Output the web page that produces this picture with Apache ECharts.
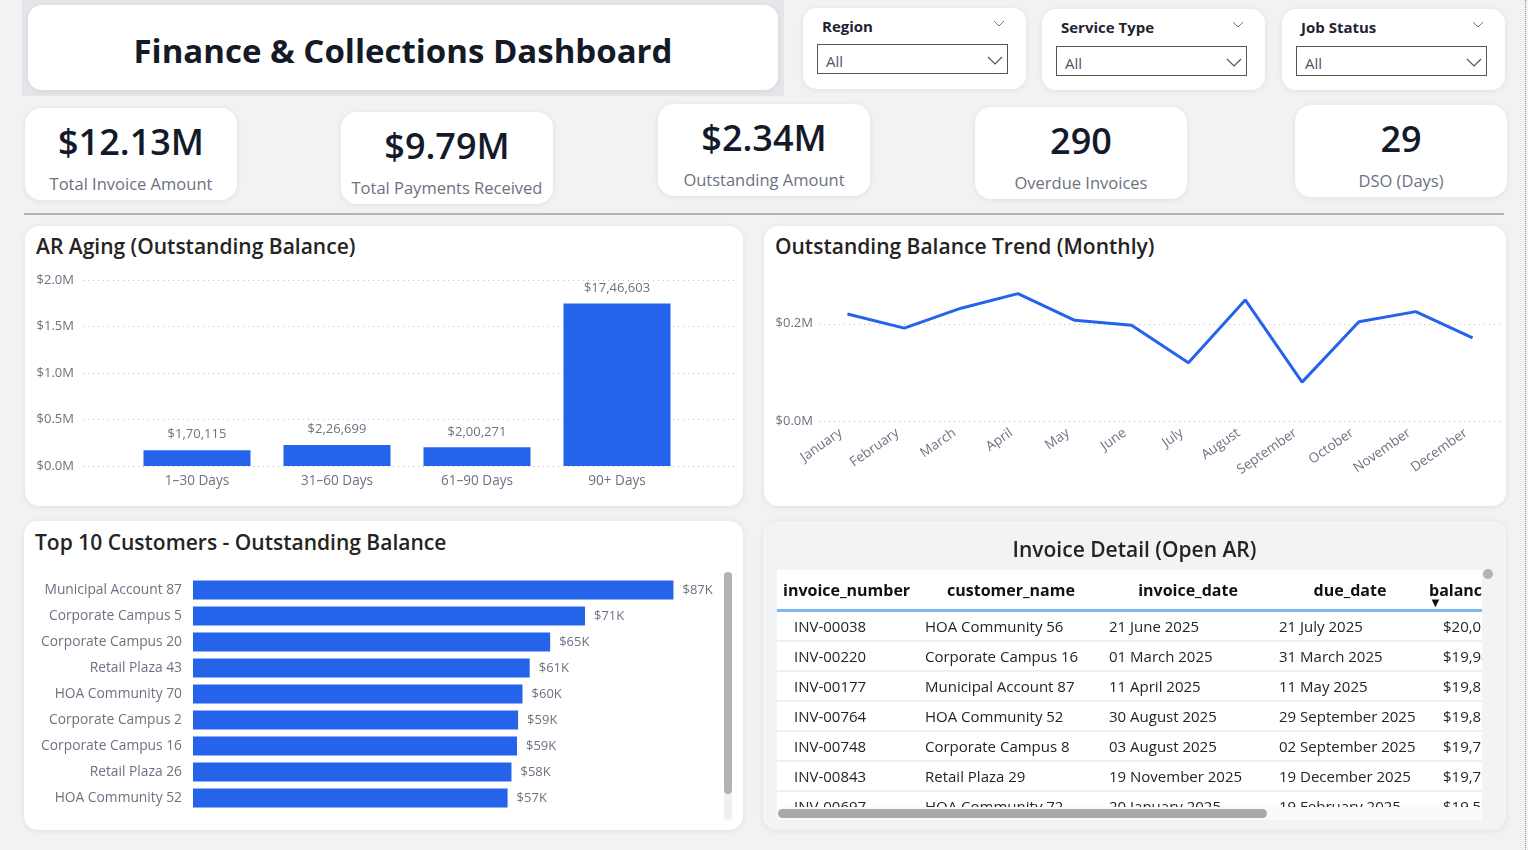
<!DOCTYPE html>
<html>
<head>
<meta charset="utf-8">
<title>Finance &amp; Collections Dashboard</title>
<style>
	html, body { margin:0; padding:0; }
	body { width:1528px; height:850px; background:#f1f2f4; position:relative; overflow:hidden;
		font-family:"Segoe UI","Open Sans","Noto Sans",sans-serif; color:#252423; }
	.abs { position:absolute; }
	.card { position:absolute; background:#fff; border-radius:14px; box-shadow:0 1px 6px rgba(0,0,0,0.08); }
	.title_wp { left:22px; top:0; width:762px; height:96px; background:#e4e6ea; }
	.title_box { left:28px; top:5px; width:750px; height:85px; }
	.title_box h1 { margin:0; padding-top:3px; line-height:85px; text-align:center; font-size:33px; font-weight:700; color:#141a26; }
	.slicer .lbl { position:absolute; left:19px; top:8px; font-size:15px; font-weight:700; color:#1f2430; }
	.slicer .box { position:absolute; left:14px; width:191px; height:30px; border:1px solid #555; box-sizing:border-box; }
	.slicer .box span { position:absolute; left:8px; top:6px; font-size:15px; color:#4b5563; }
	.slicer svg { position:absolute; }
	.kpi .val { position:absolute; left:0; right:0; text-align:center; font-size:36px; font-weight:600; color:#131a2a; line-height:1; }
	.kpi .txt { position:absolute; left:0; right:0; text-align:center; font-size:16.5px; color:#6b7280; line-height:1; }
	.sep { left:24px; top:213px; width:1480px; height:2px; background:#b4b4b4; }
	.ctit { position:absolute; left:11px; top:6px; font-size:21px; font-weight:600; color:#252423; white-space:nowrap; }
	.chart { position:absolute; }
	.tcard { background:#f2f3f5; }
	.tcard .ctit { left:0; right:0; text-align:center; top:14px; }
	.twrap { position:absolute; left:14px; top:49px; width:705px; height:237px; overflow:hidden; background:#fff; }
	table.k { border-collapse:collapse; table-layout:fixed; width:800px; }
	table.k th { height:39px; font-size:16px; font-weight:700; color:#111; text-align:center; padding:0; white-space:nowrap;
		border-bottom:3px solid #7db8ef; vertical-align:middle; }
	table.k td { height:28px; font-size:15px; color:#252423; padding:0 0 0 6px; white-space:nowrap; overflow:hidden;
		border-bottom:2px solid #eef0f3; }
	table.k td.c1 { padding-left:17px; }
	table.k td.c5 { padding-left:16px; }
	.hscroll { left:15px; top:288px; width:489px; height:9px; border-radius:5px; background:#a8a8a8; }
	.vscroll { border-radius:4px; background:#b3b3b3; }
</style>
</head>
<body>
	<div class="abs title_wp"></div>
	<div class="card title_box"><h1>Finance &amp; Collections Dashboard</h1></div>

	<div id="slicers"></div>
	<div id="kpis"></div>
	<div class="abs sep"></div>

	<div class="card" style="left:25px;top:226px;width:718px;height:280px;">
		<div class="ctit">AR Aging (Outstanding Balance)</div>
		<div id="aging" class="chart" style="left:0;top:0;width:718px;height:280px;"></div>
	</div>
	<!--end aging-->

	<div class="card" style="left:764px;top:226px;width:742px;height:280px;">
		<div class="ctit">Outstanding Balance Trend (Monthly)</div>
		<div id="trend" class="chart" style="left:0;top:0;width:742px;height:280px;"></div>
	</div>
	<!--end trend-->

	<div class="card" style="left:24px;top:521px;width:719px;height:309px;">
		<div class="ctit" style="top:7px;">Top 10 Customers - Outstanding Balance</div>
		<div id="topcust" class="chart" style="left:0;top:0;width:719px;height:309px;"></div>
		<div class="abs vscroll" style="left:700px;top:51px;width:8px;height:248px;background:#f0f0f0;"></div>
		<div class="abs vscroll" style="left:700px;top:51px;width:8px;height:222px;"></div>
	</div>
	<!--end topcust-->

	<div class="card tcard" style="left:763px;top:521px;width:743px;height:309px;">
		<div class="ctit">Invoice Detail (Open AR)</div>
		<div class="twrap"><table class="k" id="inv_tb"></table></div>
		<div class="abs" style="left:14px;top:286px;width:705px;height:13px;background:#fafafa;"></div>
		<div class="abs hscroll"></div>
		<div class="abs vscroll" style="left:720px;top:48px;width:10px;height:10px;border-radius:5px;"></div>
	</div>
	<!--end invoice table-->

	<div class="abs" style="left:1525px;top:0;width:0;height:850px;border-left:1px dotted #999;"></div>

<script src="https://cdn.jsdelivr.net/npm/echarts@6.0.0/dist/echarts.min.js"></script>
<script>
// ---- data ----
var slicerNames = ['Region', 'Service Type', 'Job Status'];
var kpiValues = ['$12.13M', '$9.79M', '$2.34M', '290', '29'];
var kpiLabels = ['Total Invoice Amount', 'Total Payments Received', 'Outstanding Amount', 'Overdue Invoices', 'DSO (Days)'];

var agingCats = ['1–30 Days', '31–60 Days', '61–90 Days', '90+ Days'];
var agingVals = [170115, 226699, 200271, 1746603];

var months = ['January', 'February', 'March', 'April', 'May', 'June', 'July', 'August', 'September', 'October', 'November', 'December'];
var trendVals = [220000, 191000, 232000, 262000, 207000, 197000, 120000, 249000, 80000, 204000, 225000, 171000];

var custNames = ['Municipal Account 87', 'Corporate Campus 5', 'Corporate Campus 20', 'Retail Plaza 43', 'HOA Community 70',
	'Corporate Campus 2', 'Corporate Campus 16', 'Retail Plaza 26', 'HOA Community 52'];
var custVals = [86900, 70900, 64600, 60900, 59600, 58800, 58600, 57600, 56900];

var tbCols = ['invoice_number', 'customer_name', 'invoice_date', 'due_date', 'balance'];
var invNumbers = ['INV-00038', 'INV-00220', 'INV-00177', 'INV-00764', 'INV-00748', 'INV-00843', 'INV-00697'];
var invCustomers = ['HOA Community 56', 'Corporate Campus 16', 'Municipal Account 87', 'HOA Community 52', 'Corporate Campus 8', 'Retail Plaza 29', 'HOA Community 72'];
var invDates = ['21 June 2025', '01 March 2025', '11 April 2025', '30 August 2025', '03 August 2025', '19 November 2025', '20 January 2025'];
var dueDates = ['21 July 2025', '31 March 2025', '11 May 2025', '29 September 2025', '02 September 2025', '19 December 2025', '19 February 2025'];
var balances = ['$20,095', '$19,945', '$19,832', '$19,821', '$19,768', '$19,762', '$19,553'];

var BLUE = '#2563eb';
var AXIS_GREY = '#6b7280';

// indian style grouping, like the source report
function inr(v) {
	var s = String(Math.round(v));
	var last3 = s.slice(-3), rest = s.slice(0, -3);
	if (rest) last3 = ',' + last3;
	rest = rest.replace(/\B(?=(\d{2})+(?!\d))/g, ',');
	return '$' + rest + last3;
}
function mil(v) { return '$' + (v / 1e6).toFixed(1) + 'M'; }

// slicers
(function(){
	var lefts = [803, 1042, 1282], tops = [8, 9, 9], boxTop = [36, 37, 37];
	var html = '';
	for (var i = 0; i < slicerNames.length; i++) {
		html += '<div class="card slicer" style="left:' + lefts[i] + 'px;top:' + tops[i] + 'px;width:223px;height:81px;">' +
			'<div class="lbl">' + slicerNames[i] + '</div>' +
			'<svg style="left:190px;top:12px" width="12" height="8"><polyline points="1,1 6,6 11,1" fill="none" stroke="#777" stroke-width="1"/></svg>' +
			'<div class="box" style="top:' + boxTop[i] + 'px"><span>All</span>' +
			'<svg style="left:169px;top:11px" width="16" height="10"><polyline points="1,1 8,8 15,1" fill="none" stroke="#555" stroke-width="1.2"/></svg></div>' +
			'</div>';
	}
	document.getElementById('slicers').innerHTML = html;
})();

// kpi cards
(function(){
	var pos = [[25, 108], [341, 112], [658, 104], [975, 107], [1295, 105]];
	var html = '';
	for (var i = 0; i < kpiValues.length; i++) {
		html += '<div class="card kpi" style="left:' + pos[i][0] + 'px;top:' + pos[i][1] + 'px;width:212px;height:92px;border-radius:16px;">' +
			'<div class="val" style="top:16px">' + kpiValues[i] + '</div>' +
			'<div class="txt" style="top:68px">' + kpiLabels[i] + '</div></div>';
	}
	document.getElementById('kpis').innerHTML = html;
})();

// invoice table
(function(){
	var widths = [142, 184, 170, 154, 150];
	var h = '<colgroup>';
	for (var i = 0; i < widths.length; i++) h += '<col style="width:' + widths[i] + 'px">';
	h += '</colgroup><tr>';
	for (var i = 0; i < tbCols.length; i++) {
		var name = tbCols[i];
		if (i === 0) h += '<th style="text-align:left;padding-left:6px">' + name + '</th>';
		else if (i === 4) h += '<th style="text-align:left;padding-left:2px;position:relative">' + name +
			'<span style="position:absolute;left:2px;top:23px;font-size:13px">&#9660;</span></th>';
		else h += '<th>' + name + '</th>';
	}
	h += '</tr>';
	for (var r = 0; r < invNumbers.length; r++) {
		h += '<tr><td class="c1">' + invNumbers[r] + '</td><td>' + invCustomers[r] + '</td><td>' + invDates[r] +
			'</td><td>' + dueDates[r] + '</td><td class="c5">' + balances[r] + '</td></tr>';
	}
	document.getElementById('inv_tb').innerHTML = h;
})();

// ar aging column
(function(){
	var app = echarts.init(document.getElementById('aging'));
	var option = {
		animation: false,
		textStyle: { fontFamily: '"Segoe UI","Open Sans",sans-serif' },
		grid: [
			{ left: 58, top: 54, width: 652, height: 186 },   // gridlines + y labels
			{ left: 102, top: 54, width: 560, height: 186 }   // bars
		],
		xAxis: [
			{ gridIndex: 0, type: 'value', min: 0, max: 1, show: false },
			{ gridIndex: 1, type: 'category', data: agingCats,
				axisLine: { show: false }, axisTick: { show: false },
				axisLabel: { color: AXIS_GREY, fontSize: 13.6, margin: 8 } }
		],
		yAxis: [
			{ gridIndex: 0, type: 'value', min: 0, max: 2000000, interval: 500000,
				axisLabel: { formatter: mil, color: AXIS_GREY, fontSize: 13, margin: 9 },
				axisLine: { show: false }, axisTick: { show: false },
				splitLine: { lineStyle: { type: [1, 4], color: '#bdbdbd' } } },
			{ gridIndex: 1, type: 'value', min: 0, max: 2000000, show: false }
		],
		series: [{
			type: 'bar', xAxisIndex: 1, yAxisIndex: 1,
			data: agingVals, barWidth: 107,
			itemStyle: { color: BLUE },
			label: { show: true, position: 'top', distance: 9, color: AXIS_GREY, fontSize: 13,
				formatter: function(p){ return inr(p.value); } }
		}]
	};
	app.setOption(option);
})();

// monthly trend line
(function(){
	var app = echarts.init(document.getElementById('trend'));
	var option = {
		animation: false,
		textStyle: { fontFamily: '"Segoe UI","Open Sans",sans-serif' },
		grid: { left: 55, top: 54, width: 682, height: 141 },
		xAxis: {
			type: 'category', data: months, boundaryGap: true,
			axisLine: { show: false }, axisTick: { show: false },
			axisLabel: { color: AXIS_GREY, fontSize: 13.5, rotate: 35, margin: 6, interval: 0, padding: [0, 8, 0, 0] }
		},
		yAxis: {
			type: 'value', min: 0, max: 290000, interval: 200000,
			axisLabel: { formatter: mil, color: AXIS_GREY, fontSize: 13, margin: 6, showMaxLabel: false },
			axisLine: { show: false }, axisTick: { show: false },
			splitLine: { showMaxLine: false, lineStyle: { type: [1, 4], color: '#bdbdbd' } }
		},
		series: [{
			type: 'line', data: trendVals, showSymbol: false,
			lineStyle: { color: BLUE, width: 3 }, itemStyle: { color: BLUE }
		}]
	};
	app.setOption(option);
})();

// top customers bar
(function(){
	var app = echarts.init(document.getElementById('topcust'));
	var option = {
		animation: false,
		textStyle: { fontFamily: '"Segoe UI","Open Sans",sans-serif' },
		grid: { left: 169, top: 56, width: 481, height: 234 },
		xAxis: { type: 'value', min: 0, max: 87000, show: false },
		yAxis: {
			type: 'category', data: custNames, inverse: true,
			axisLine: { show: false }, axisTick: { show: false },
			axisLabel: { color: AXIS_GREY, fontSize: 13.8, margin: 11 }
		},
		series: [{
			type: 'bar', data: custVals, barWidth: 19,
			itemStyle: { color: BLUE },
			label: { show: true, position: 'right', distance: 9, color: AXIS_GREY, fontSize: 13,
				formatter: function(p){ return '$' + Math.round(p.value / 1000) + 'K'; } }
		}]
	};
	app.setOption(option);
})();
</script>
</body>
</html>
